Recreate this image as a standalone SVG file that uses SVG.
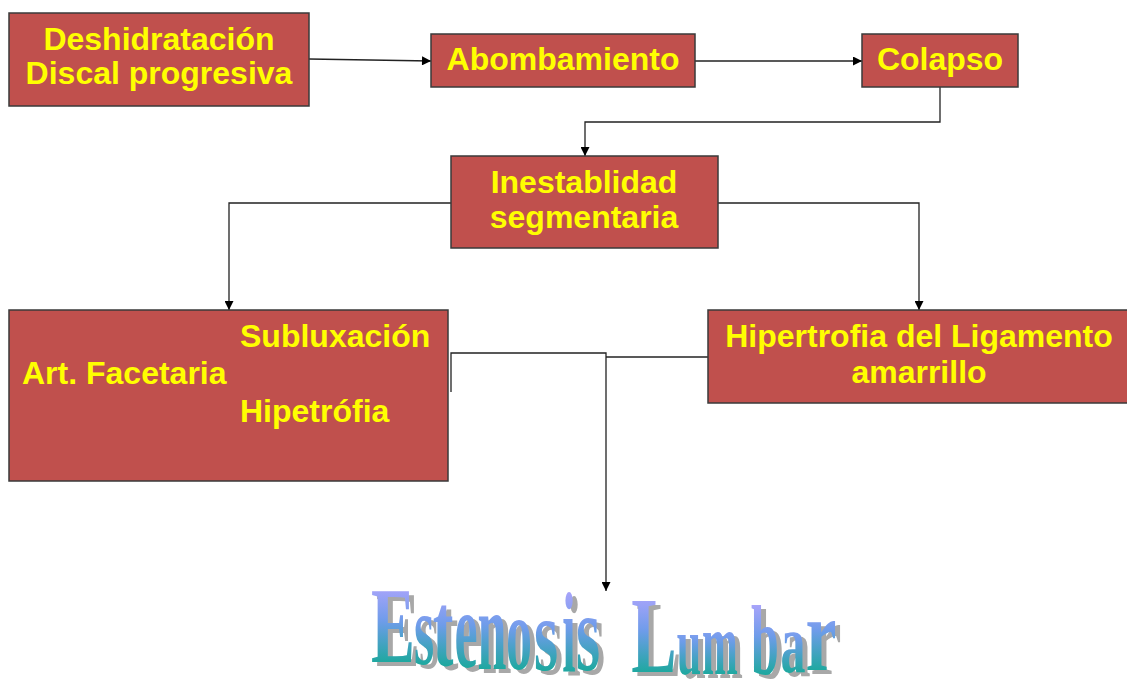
<svg xmlns="http://www.w3.org/2000/svg" xmlns:xlink="http://www.w3.org/1999/xlink" width="1127" height="691" viewBox="0 0 1127 691">
  <style>
    .box { fill: #C0504D; stroke: #3A3A3A; stroke-width: 1.5; }
    .lbl { font-family: "Liberation Sans", Arial, sans-serif; font-weight: bold; font-size: 32px; fill: #FFFF00; }
    .mid { text-anchor: middle; }
    .conn { fill: none; stroke: #222; stroke-width: 1.3; }
    .wa { font-family: "Liberation Serif", "Times New Roman", serif; font-weight: bold; font-size: 100px; text-anchor: middle; }
  </style>
  <defs>
    <marker id="arr" viewBox="0 0 10 10" refX="10" refY="5" markerWidth="10" markerHeight="9" markerUnits="userSpaceOnUse" orient="auto">
      <path d="M0,0 L10,5 L0,10 Z" fill="#000"/>
    </marker>
    <linearGradient id="wg" gradientUnits="userSpaceOnUse" x1="0" y1="-70" x2="0" y2="0">
      <stop offset="0" stop-color="#A8A4FA"/>
      <stop offset="0.45" stop-color="#6F9CEA"/>
      <stop offset="1" stop-color="#1FA8A0"/>
    </linearGradient>
  </defs>
  <rect width="1127" height="691" fill="#FFFFFF"/>

  <g id="connectors">
    <path class="conn" d="M309,59 L431,61" marker-end="url(#arr)"/>
    <path class="conn" d="M695,61 L862,61" marker-end="url(#arr)"/>
    <path class="conn" d="M940,87 L940,122 L585,122 L585,156" marker-end="url(#arr)"/>
    <path class="conn" d="M451,203 L229,203 L229,310" marker-end="url(#arr)"/>
    <path class="conn" d="M718,203 L919,203 L919,310" marker-end="url(#arr)"/>
    <path class="conn" d="M451,392 L451,353 L606,353 L606,591" marker-end="url(#arr)"/>
    <path class="conn" d="M708,357 L606,357"/>
  </g>

  <g id="node-deshidratacion">
    <rect class="box" x="9" y="13" width="300" height="93"/>
    <text class="lbl mid" x="159" y="50">Deshidratación</text>
    <text class="lbl mid" x="159" y="84">Discal progresiva</text>
  </g>
  <g id="node-abombamiento">
    <rect class="box" x="431" y="34" width="264" height="53"/>
    <text class="lbl mid" x="563" y="70">Abombamiento</text>
  </g>
  <g id="node-colapso">
    <rect class="box" x="862" y="34" width="156" height="53"/>
    <text class="lbl mid" x="940" y="70">Colapso</text>
  </g>
  <g id="node-inestablidad">
    <rect class="box" x="451" y="156" width="267" height="92"/>
    <text class="lbl mid" x="584" y="193">Inestablidad</text>
    <text class="lbl mid" x="584" y="228">segmentaria</text>
  </g>
  <g id="node-facetaria">
    <rect class="box" x="9" y="310" width="439" height="171"/>
    <text class="lbl" x="240" y="347">Subluxación</text>
    <text class="lbl" x="22" y="384">Art. Facetaria</text>
    <text class="lbl" x="240" y="422">Hipetrófia</text>
  </g>
  <g id="node-ligamento">
    <rect class="box" x="708" y="310" width="421" height="93"/>
    <text class="lbl mid" x="919" y="347">Hipertrofia del Ligamento</text>
    <text class="lbl mid" x="919" y="383">amarrillo</text>
  </g>

  <g id="node-estenosis">
    <g transform="translate(5,4)" fill="#A8A8A8">
      <g id="wa" class="wa">
        <text transform="translate(393,662) scale(0.66,1.07)">E</text>
        <text transform="translate(424,664) scale(0.52,1.02)">s</text>
        <text transform="translate(443,665) scale(0.62,1.05)">t</text>
        <text transform="translate(466,667) scale(0.52,1.11)">e</text>
        <text transform="translate(492,669) scale(0.52,1.15)">n</text>
        <text transform="translate(519,669) scale(0.52,1.04)">o</text>
        <text transform="translate(546,670) scale(0.62,1.03)">s</text>
        <text transform="translate(569,672) scale(0.48,1.15)">i</text>
        <text transform="translate(588,670) scale(0.62,1.11)">s</text>
        <text transform="translate(654,672) scale(0.68,1.08)">L</text>
        <text transform="translate(689,674) scale(0.44,0.85)">u</text>
        <text transform="translate(720,674) scale(0.43,0.88)">m</text>
        <text transform="translate(765,674) scale(0.50,0.99)">b</text>
        <text transform="translate(793,672) scale(0.50,0.85)">a</text>
        <text transform="translate(821,670) scale(0.70,1.03)">r</text>
      </g>
    </g>
    <use xlink:href="#wa" href="#wa" fill="url(#wg)"/>
  </g>
</svg>
